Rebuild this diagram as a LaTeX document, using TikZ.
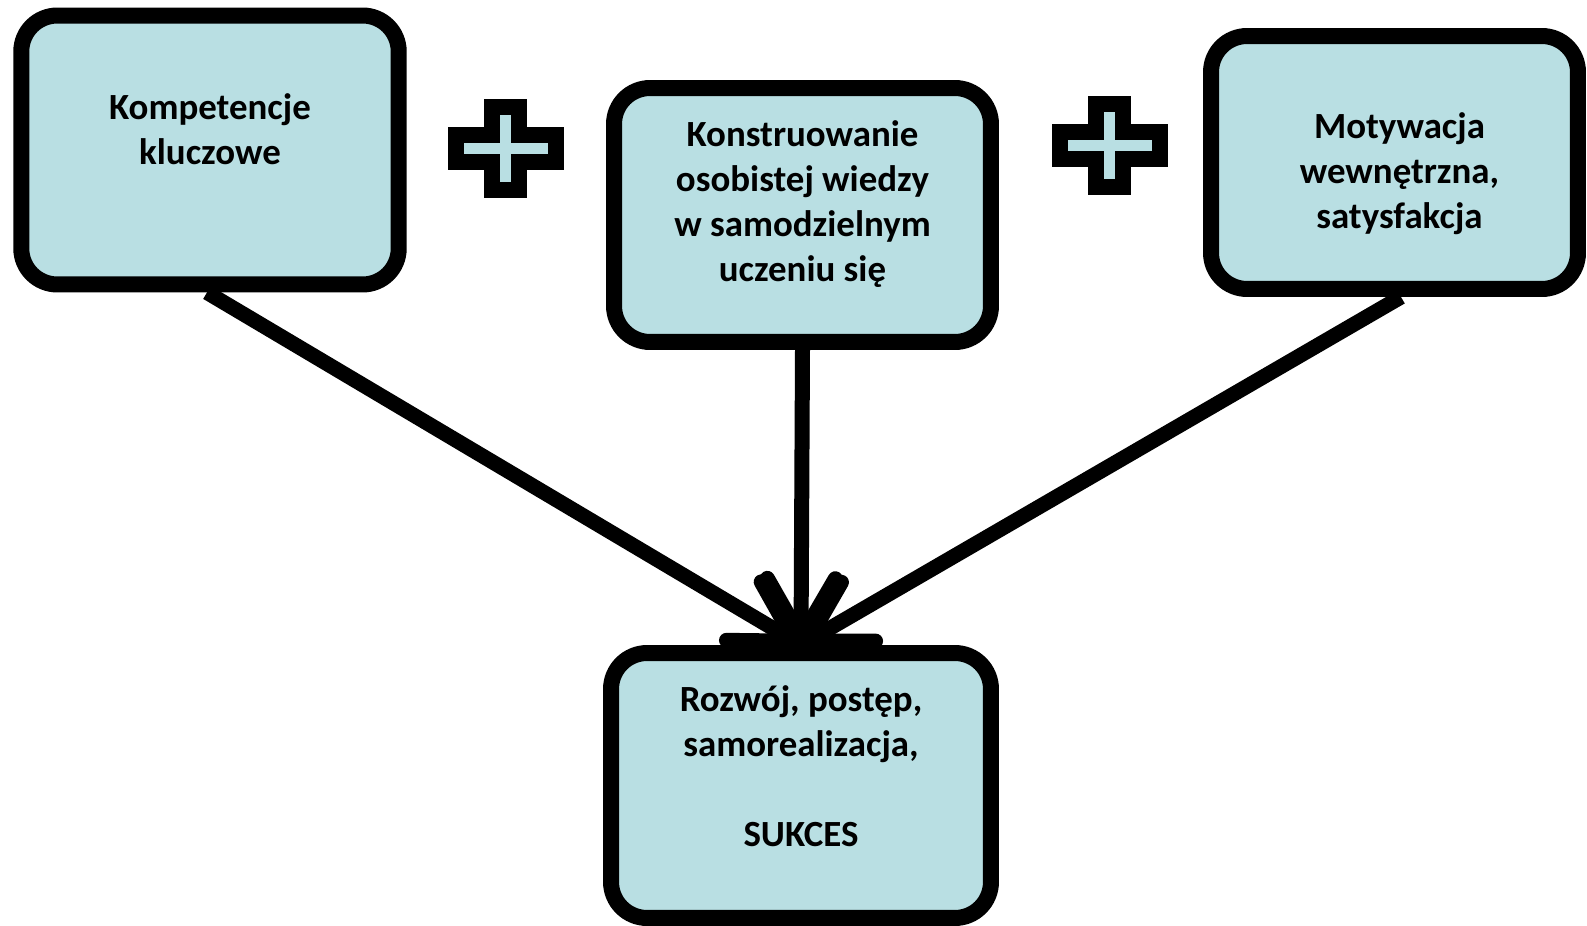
\documentclass[tikz,border=0pt]{standalone}
\usepackage{fontspec}
\setmainfont{Carlito}
\usepackage{xcolor}
\usepackage{tikz}
\usetikzlibrary{positioning}
\usetikzlibrary{arrows.meta}

\definecolor{boxblue}{RGB}{185,223,227}

\tikzset{
	box/.style={rectangle,draw=black,fill=boxblue,line width=0.32cm,rounded corners=0.72cm},
	boxtext/.style={text=black,font={\bfseries\fontsize{21}{25.6}\selectfont},align=center},
	link/.style={line width=0.3cm,-{Straight Barb[length=1.18cm,width=1.36cm,round]}},
	plusmark/.pic={
		\draw[line width=0.32cm,fill=boxblue] (-50,-13.25)--(-13.25,-13.25)--(-13.25,-41.5)--(13.25,-41.5)--(13.25,-13.25)--(50,-13.25)--(50,13.25)--(13.25,13.25)--(13.25,41.5)--(-13.25,41.5)--(-13.25,13.25)--(-50,13.25)--cycle;
	}
}

\begin{document}
\begin{tikzpicture}[x=0.02cm,y=-0.02cm] % kompetencje -> sukces
	\useasboundingbox (0,0) rectangle (1587,926);
	
	\foreach \n/\x/\y/\w/\h in {komp/210/150/7.55/5.38,konstr/802.5/215/7.54/5.08,motyw/1394.5/162.5/7.34/5.06,sukces/801/785.5/7.6/5.3}{
		\node[box,minimum width=\w cm,minimum height=\h cm] 
		(\n) at (\x,\y){};
	}
	
	\node[boxtext] (kompT) at ([yshift=0.42cm] komp.center) {Kompetencje\\kluczowe};
	\node[boxtext] (konstrT) at ([yshift=0.22cm] konstr.center) {Konstruowanie\\osobistej wiedzy\\w samodzielnym\\uczeniu się};
	\node[boxtext] (motywT) at ([shift={(0.1cm,-0.22cm)}] motyw.center) {Motywacja\\wewnętrzna,\\satysfakcja};
	\node[boxtext] (sukcesT) at ([yshift=0.38cm] sukces.center) {Rozwój, postęp,\\samorealizacja,\\[0.9cm]SUKCES};
	
	\pic at (505.5,148.5) {plusmark};
	\pic at (1109.5,145.5) {plusmark};
	
	\foreach \i/\dx in {komp/-0.06,konstr/0,motyw/0.13}{
		\draw[link] ([xshift=\dx cm]\i.south)--(sukces.north);}
\end{tikzpicture}
\end{document}
